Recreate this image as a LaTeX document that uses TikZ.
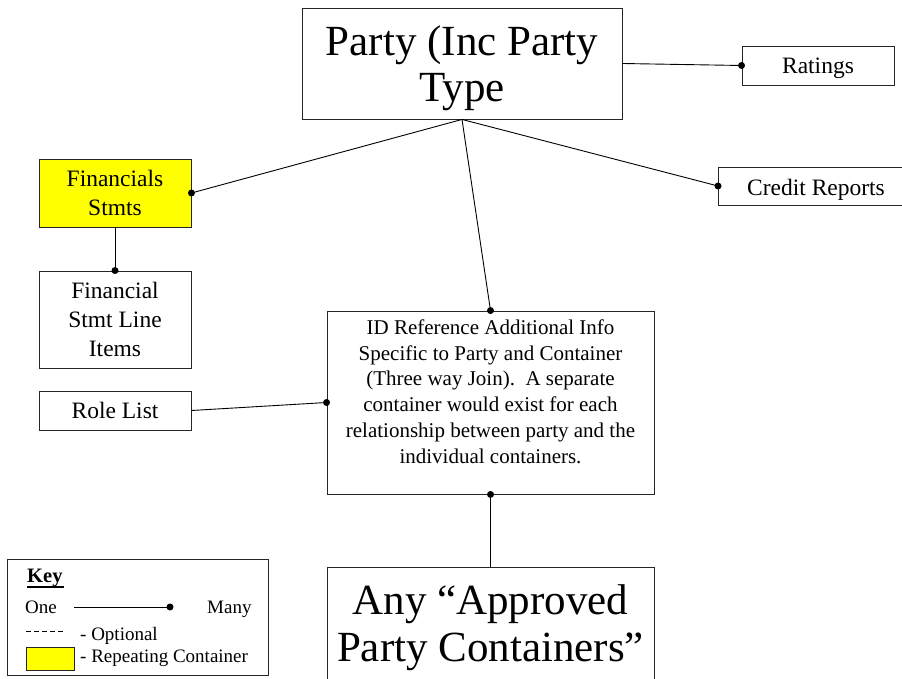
\documentclass[tikz,border=0pt]{standalone}
\usepackage{fontspec}
\setmainfont{Liberation Serif}
\newcommand\fbig{\fontsize{43}{46.5}\selectfont}
\newcommand\fmid{\fontsize{23.5}{29.3}\selectfont}
\newcommand\fid{\fontsize{21}{25.8}\selectfont}
\newcommand\fkey{\fontsize{19}{20}\selectfont}
\definecolor{repeatfill}{RGB}{255,255,0}
\begin{document}
\begin{tikzpicture}[x=1pt,y=-1pt,
  box/.style={draw=black!85, line width=0.9pt, inner sep=0pt, rectangle},
  txt/.style={inner sep=0pt, align=center},
  keytxt/.style={inner sep=0pt, anchor=base west, font=\fkey},
  link/.style={line width=0.9pt},
  dotmark/.style={circle, fill=black, inner sep=0pt, minimum size=7pt}]
\clip (0,0) rectangle (902,679);
\fill[white] (0,0) rectangle (902,679);

% entity boxes
\node[box, minimum width=320pt, minimum height=111pt] (party) at (462,63.5) {};
\node[txt, font=\fbig] (partyt) at (462,68) {Party (Inc Party\\Type};

\node[box, minimum width=152pt, minimum height=39pt] (ratings) at (818,65.5) {};
\node[txt, font=\fmid] (ratingst) at (818,68.5) {Ratings};

\node[box, minimum width=185pt, minimum height=38pt] (credit) at (810.5,186) {};
\coordinate (creditw) at (718,186);
\node[txt, font=\fmid] (creditt) at (816,189.5) {Credit Reports};

\node[box, fill=repeatfill, minimum width=152pt, minimum height=68pt] (fin) at (115,193) {};
\node[txt, font=\fmid] (fint) at (115,193) {Financials\\Stmts};

\node[box, minimum width=152pt, minimum height=97pt] (fsli) at (115,319.5) {};
\node[txt, font=\fmid] (fslit) at (115,319.5) {Financial\\Stmt Line\\Items};

\node[box, minimum width=152pt, minimum height=39pt] (role) at (115,410.5) {};
\node[txt, font=\fmid] (rolet) at (115,410) {Role List};

\node[box, minimum width=327pt, minimum height=183pt] (id) at (490.5,402.5) {};
\node[txt, font=\fid] (idt) at (490.5,391.5) {ID Reference Additional Info\\Specific to Party and Container\\(Three way Join).\ \ A separate\\container would exist for each\\relationship between party and the\\individual containers.};

\node[box, minimum width=327pt, minimum height=140pt] (big) at (490.5,637) {};
\coordinate (bign) at (490.5,567);
\node[txt, font=\fbig] (bigt) at (490.5,627.5) {Any \textquotedblleft Approved\\Party Containers\textquotedblright};

% connectors: plain end = one, dot = many
\draw[link] (party.south) -- (fin.east);
\node[dotmark] at (fin.east) {};
\draw[link] (party.south) -- (creditw);
\node[dotmark] at (creditw) {};
\draw[link] (party.south) -- (id.north);
\node[dotmark] at (id.north) {};
\draw[link] (party.east) -- (ratings.west);
\node[dotmark] at (ratings.west) {};
\draw[link] (fin.south) -- (fsli.north);
\node[dotmark] at (fsli.north) {};
\draw[link] (role.east) -- (id.west);
\node[dotmark] at (id.west) {};
\draw[link] (id.south) -- (bign);
\node[dotmark] at (id.south) {};

% key
\node[box, minimum width=261pt, minimum height=116pt] (keybox) at (137.5,617) {};
\node[inner sep=0pt, anchor=base west, font=\fontsize{20.5}{21}\selectfont\bfseries] (keyt) at (27,582) {Key};
\draw[line width=1.6pt] (keyt.base west)++(0,5) -- ++(37,0);
\node[keytxt] (onet) at (25,613) {One};
\node[keytxt] (manyt) at (207,613) {Many};
\coordinate (ka) at (74,607);
\coordinate (kb) at (170,607);
\draw[link] (ka) -- (kb);
\node[dotmark] at (kb) {};
\coordinate (da) at (26,631);
\coordinate (db) at (63,631);
\draw[line width=0.8pt, dash pattern=on 5pt off 3pt] (da) -- (db);
\node[keytxt] (optt) at (80,640) {- Optional};
\node[box, fill=repeatfill, minimum width=48pt, minimum height=23pt] (keyrep) at (50,658.5) {};
\node[keytxt] (rept) at (80,662) {- Repeating Container};
\end{tikzpicture}
\end{document}
